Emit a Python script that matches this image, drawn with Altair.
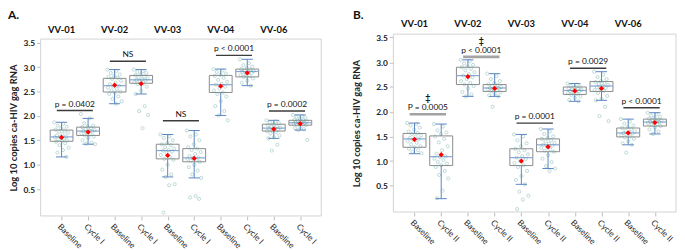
import altair as alt
import pandas as pd

subjects = ["VV-01", "VV-02", "VV-03", "VV-04", "VV-06"]

# ---------------- Panel A (Baseline vs Cycle I) ----------------
# order: VV-01 Baseline, VV-01 Cycle I, VV-02 Baseline, VV-02 Cycle I, ...
a_lo = [1.16, 1.42, 2.25, 2.45, 0.75, 0.73, 2.01, 2.62, 1.54, 1.71]
a_q1 = [1.48, 1.60, 2.49, 2.67, 1.12, 1.06, 2.48, 2.80, 1.69, 1.81]
a_med = [1.57, 1.69, 2.62, 2.74, 1.29, 1.14, 2.64, 2.91, 1.75, 1.86]
a_q3 = [1.71, 1.77, 2.77, 2.83, 1.42, 1.33, 2.83, 2.96, 1.83, 1.91]
a_hi = [1.87, 1.95, 2.95, 2.95, 1.62, 1.70, 2.96, 3.16, 1.91, 2.02]
a_mean = [1.56, 1.67, 2.63, 2.66, 1.19, 1.13, 2.61, 2.88, 1.73, 1.84]

a01_base = [1.87, 1.84, 1.80, 1.78, 1.75, 1.72, 1.70, 1.68, 1.66, 1.63, 1.60, 1.58, 1.57,
            1.56, 1.54, 1.52, 1.50, 1.49, 1.47, 1.44, 1.40, 1.35, 1.30, 1.25, 1.16]
a01_cyc = [2.04, 1.95, 1.85, 1.80, 1.78, 1.77, 1.75, 1.73, 1.71, 1.70, 1.69, 1.68, 1.66,
           1.64, 1.62, 1.60, 1.58, 1.55, 1.50, 1.45, 1.43, 1.42]
a02_base = [2.95, 2.92, 2.88, 2.85, 2.82, 2.80, 2.78, 2.76, 2.72, 2.68, 2.65, 2.62, 2.60,
            2.58, 2.55, 2.52, 2.50, 2.48, 2.45, 2.40, 2.35, 2.30, 2.25]
a02_cyc = [2.95, 2.92, 2.90, 2.88, 2.85, 2.83, 2.81, 2.79, 2.77, 2.75, 2.74, 2.73, 2.71,
           2.69, 2.67, 2.65, 2.60, 2.52, 2.45, 2.20, 2.10, 2.02, 1.75]
a03_base = [1.62, 1.58, 1.55, 1.50, 1.45, 1.42, 1.40, 1.36, 1.33, 1.30, 1.29, 1.27, 1.24,
            1.20, 1.16, 1.12, 1.10, 1.00, 0.90, 0.80, 0.75, 0.60, 0.58, 0.02]
a03_cyc = [1.70, 1.62, 1.58, 1.50, 1.42, 1.36, 1.33, 1.30, 1.26, 1.22, 1.18, 1.15, 1.14,
           1.12, 1.10, 1.08, 1.06, 1.00, 0.95, 0.88, 0.80, 0.73, 0.36, 0.33, 0.30]
a04_base = [2.96, 2.93, 2.90, 2.87, 2.84, 2.82, 2.78, 2.74, 2.70, 2.66, 2.64, 2.60, 2.56,
            2.52, 2.48, 2.45, 2.40, 2.30, 2.20, 2.10, 2.01, 1.91]
a04_cyc = [3.16, 3.08, 3.04, 3.01, 2.98, 2.96, 2.95, 2.93, 2.92, 2.91, 2.90, 2.88, 2.86,
           2.84, 2.82, 2.80, 2.77, 2.72, 2.68, 2.62]
a06_base = [1.91, 1.89, 1.87, 1.85, 1.83, 1.81, 1.79, 1.77, 1.76, 1.75, 1.74, 1.72, 1.70,
            1.69, 1.67, 1.64, 1.60, 1.56, 1.54, 1.41, 1.29]
a06_cyc = [2.02, 2.00, 1.98, 1.96, 1.94, 1.92, 1.91, 1.90, 1.89, 1.88, 1.87, 1.86, 1.85,
           1.84, 1.83, 1.82, 1.81, 1.78, 1.75, 1.73, 1.71, 1.51]

a_ann_text = ["p = 0.0402", "NS", "NS", "p < 0.0001", "p = 0.0002"]
a_ann_y = [2.11, 3.12, 1.90, 3.24, 2.10]
a_ann_mark = ["", "", "", "", ""]

# ---------------- Panel B (Baseline vs Cycle II) ----------------
b_lo = [1.15, 0.24, 2.31, 2.31, 0.53, 0.85, 2.21, 2.23, 1.33, 1.55]
b_q1 = [1.28, 0.91, 2.55, 2.41, 0.91, 1.19, 2.35, 2.41, 1.49, 1.71]
b_med = [1.45, 1.09, 2.73, 2.48, 1.07, 1.33, 2.43, 2.52, 1.57, 1.79]
b_q3 = [1.56, 1.51, 2.90, 2.55, 1.25, 1.45, 2.50, 2.61, 1.67, 1.85]
b_hi = [1.77, 1.75, 3.05, 2.77, 1.54, 1.65, 2.57, 2.81, 1.85, 1.98]
b_mean = [1.44, 1.13, 2.71, 2.47, 1.00, 1.29, 2.42, 2.47, 1.57, 1.78]

b01_base = [1.77, 1.75, 1.72, 1.68, 1.64, 1.60, 1.57, 1.55, 1.52, 1.50, 1.47, 1.45, 1.43,
            1.40, 1.37, 1.34, 1.30, 1.28, 1.25, 1.22, 1.19, 1.16]
b01_cyc = [1.75, 1.70, 1.62, 1.58, 1.55, 1.50, 1.45, 1.38, 1.30, 1.22, 1.15, 1.10, 1.08,
           1.05, 1.02, 0.98, 0.95, 0.92, 0.88, 0.80, 0.72, 0.65, 0.40, 0.25]
b02_base = [3.05, 3.02, 2.98, 2.95, 2.92, 2.90, 2.87, 2.84, 2.80, 2.76, 2.73, 2.70, 2.66,
            2.62, 2.58, 2.55, 2.52, 2.47, 2.40, 2.35, 2.31]
b02_cyc = [2.77, 2.72, 2.66, 2.62, 2.58, 2.56, 2.54, 2.52, 2.50, 2.49, 2.48, 2.47, 2.46,
           2.45, 2.43, 2.41, 2.39, 2.36, 2.33, 2.31, 2.10]
b03_base = [1.54, 1.50, 1.42, 1.36, 1.30, 1.25, 1.22, 1.18, 1.14, 1.10, 1.07, 1.04, 1.00,
            0.96, 0.92, 0.88, 0.80, 0.70, 0.62, 0.53, 0.38, 0.30, 0.22, 0.03]
b03_cyc = [1.65, 1.60, 1.55, 1.50, 1.47, 1.45, 1.42, 1.40, 1.37, 1.35, 1.33, 1.31, 1.29,
           1.27, 1.24, 1.21, 1.19, 1.12, 1.05, 0.98, 0.90, 0.85, 0.80]
b04_base = [2.57, 2.55, 2.53, 2.51, 2.49, 2.47, 2.46, 2.45, 2.44, 2.43, 2.42, 2.41, 2.40,
            2.38, 2.36, 2.34, 2.31, 2.28, 2.24, 2.21]
b04_cyc = [2.81, 2.75, 2.70, 2.66, 2.62, 2.60, 2.58, 2.56, 2.54, 2.52, 2.50, 2.48, 2.46,
           2.44, 2.42, 2.38, 2.32, 2.26, 2.23, 2.10, 1.91, 1.81]
b06_base = [1.85, 1.80, 1.76, 1.72, 1.69, 1.67, 1.65, 1.62, 1.60, 1.58, 1.57, 1.56, 1.54,
            1.52, 1.50, 1.48, 1.45, 1.40, 1.36, 1.33, 1.17]
b06_cyc = [1.98, 1.95, 1.92, 1.90, 1.88, 1.86, 1.84, 1.83, 1.82, 1.81, 1.80, 1.79, 1.78,
           1.77, 1.75, 1.73, 1.71, 1.68, 1.64, 1.60, 1.55]

b_ann_text = ["P = 0.0005", "p < 0.0001", "p = 0.0001", "p = 0.0029", "p < 0.0001"]
b_ann_y = [1.95, 3.11, 1.77, 2.88, 2.08]
b_ann_mark = ["\u2021", "\u2021", "", "", ""]

W, H = 677, 242
FONT = "Lato"


def tables(lo, q1, med, q3, hi, mean, pts, ann_text, ann_y, ann_mark):
    box_df = pd.DataFrame({"pos": list(range(10)), "lo": lo, "q1": q1, "med": med,
                           "q3": q3, "hi": hi, "mean": mean})
    rows = []
    for i, vals in enumerate(pts):
        for k, v in enumerate(vals):
            rows.append({"pos": i, "k": k, "v": v})
    pts_df = pd.DataFrame(rows)
    ann_df = pd.DataFrame({"pos": [0, 2, 4, 6, 8], "y": ann_y, "text": ann_text,
                           "mark": ann_mark})
    head_df = pd.DataFrame({"pos": [0, 2, 4, 6, 8], "subject": subjects})
    return box_df, pts_df, ann_df, head_df


def panel(dfs, cond2, xr, yr, ydom, head_y, letter, letter_x, title_x):
    box_df, pts_df, ann_df, head_df = dfs
    xs = alt.Scale(domain=[-0.79, 9.79], range=xr, nice=False, zero=False)
    ys = alt.Scale(domain=ydom, range=yr, nice=False, zero=False)
    xax = alt.Axis(orient="bottom", offset=-(H - yr[0]), values=list(range(10)),
                   labelExpr=f"datum.value % 2 == 0 ? 'Baseline' : '{cond2}'",
                   labelAngle=45, labelAlign="left", labelBaseline="top",
                   labelFontSize=8.5, labelColor="#1e1e1e", labelOverlap=False,
                   labelFlush=False, labelPadding=2, tickColor="#bdbdbd", tickSize=4,
                   domain=False, grid=False, title=None)
    yax = alt.Axis(orient="left", offset=-xr[0], values=[0.5, 1, 1.5, 2, 2.5, 3, 3.5],
                   format=".1f", labelFontWeight="bold", labelFontSize=8.5,
                   labelColor="#222222", labelPadding=2, tickColor="#bdbdbd", tickSize=4,
                   domain=False, grid=False, title="Log 10 copies ca-HIV gag RNA",
                   titleFontSize=9.5, titleFontWeight="bold", titleColor="#222222",
                   titleX=title_x, titleBaseline="bottom")

    def X(f):
        return alt.X(f, type="quantitative", scale=xs, axis=xax)

    def Y(f):
        return alt.Y(f, type="quantitative", scale=ys, axis=yax)

    one = pd.DataFrame({"a": [0]})
    frame = alt.Chart(one).mark_rect(fillOpacity=0, stroke="#d2d2d2", strokeWidth=1).encode(
        x=alt.value(xr[0]), x2=alt.value(xr[1]), y=alt.value(yr[1]), y2=alt.value(yr[0]))

    whisk = alt.Chart(box_df).mark_rule(color="#5b84c4", strokeWidth=1).encode(
        x=X("pos"), y=Y("lo"), y2="hi")
    box = alt.Chart(box_df).transform_calculate(
        bl="datum.pos - 0.43", br="datum.pos + 0.43"
    ).mark_rect(fill="white", stroke="#8a8a8a", strokeWidth=1).encode(
        x=X("bl"), x2="br", y=Y("q1"), y2="q3")
    median = alt.Chart(box_df).transform_calculate(
        bl="datum.pos - 0.43", br="datum.pos + 0.43"
    ).mark_rule(color="#86a6d8", strokeWidth=1.2).encode(x=X("bl"), x2="br", y=Y("med"))
    caps = alt.Chart(box_df).transform_fold(["lo", "hi"], as_=["end", "cv"]).transform_calculate(
        cl="datum.pos - 0.21", cr="datum.pos + 0.21"
    ).mark_rule(color="#5b84c4", strokeWidth=1).encode(x=X("cl"), x2="cr", y=Y("cv"))
    points = alt.Chart(pts_df).transform_calculate(
        jx="datum.pos + ((datum.k * 0.618034) % 1 - 0.5) * 0.55"
    ).mark_point(shape="circle", filled=False, size=10, strokeWidth=0.8,
                 color="#4f9a94", opacity=0.45).encode(x=X("jx"), y=Y("v"))
    mean = alt.Chart(box_df).mark_point(shape="diamond", filled=True, size=28,
                                        color="#ff0000", opacity=1).encode(
        x=X("pos"), y=Y("mean"))
    cond = "datum.mark != ''"
    ann_rule = alt.Chart(ann_df).transform_calculate(
        al="datum.pos + 0.5 - 0.68", ar="datum.pos + 0.5 + 0.68"
    ).mark_rule().encode(
        x=X("al"), x2="ar", y=Y("y"),
        color=alt.condition(cond, alt.value("#a3a3a3"), alt.value("#3c3c3c")),
        strokeWidth=alt.condition(cond, alt.value(2.6), alt.value(1.4)))
    ann_text = alt.Chart(ann_df).transform_calculate(ac="datum.pos + 0.5").mark_text(
        fontSize=8.5, baseline="alphabetic", dy=-4, color="#111111").encode(
        x=X("ac"), y=Y("y"), text="text:N")
    dagger = alt.Chart(ann_df).transform_calculate(ac="datum.pos + 0.5").mark_text(
        fontSize=9, fontWeight="bold", baseline="middle", dy=-16, color="#111111").encode(
        x=X("ac"), y=Y("y"), text="mark:N")
    heads = alt.Chart(head_df).mark_text(fontSize=9.5, fontWeight="bold", baseline="middle",
                                         color="#111111").encode(
        x=X("pos"), y=alt.value(head_y), text="subject:N")
    let = alt.Chart(one).mark_text(align="left", baseline="middle", fontSize=12,
                                   fontWeight="bold", color="#111111").encode(
        x=alt.value(letter_x), y=alt.value(6), text=alt.value(letter))
    return alt.layer(frame, whisk, box, median, caps, points, mean, ann_rule, ann_text,
                     dagger, heads, let)


dfs_a = tables(a_lo, a_q1, a_med, a_q3, a_hi, a_mean,
               [a01_base, a01_cyc, a02_base, a02_cyc, a03_base, a03_cyc,
                a04_base, a04_cyc, a06_base, a06_cyc],
               a_ann_text, a_ann_y, a_ann_mark)
dfs_b = tables(b_lo, b_q1, b_med, b_q3, b_hi, b_mean,
               [b01_base, b01_cyc, b02_base, b02_cyc, b03_base, b03_cyc,
                b04_base, b04_cyc, b06_base, b06_cyc],
               b_ann_text, b_ann_y, b_ann_mark)

pa = panel(dfs_a, "Cycle I", [33, 317], [209, 30], [-0.05, 3.575], 21, "A.", 0, -22)
pb = panel(dfs_b, "Cycle II", [390, 676], [205, 25], [-0.03, 3.57], 15, "B.", 349, -32)

chart = alt.layer(pa, pb).resolve_scale(x="independent", y="independent").properties(
    width=W, height=H, autosize=alt.AutoSizeParams(type="none"), padding=0
).configure(font=FONT).configure_view(stroke=None)

chart.save("out.html", embed_options={"renderer": "svg", "actions": False})
